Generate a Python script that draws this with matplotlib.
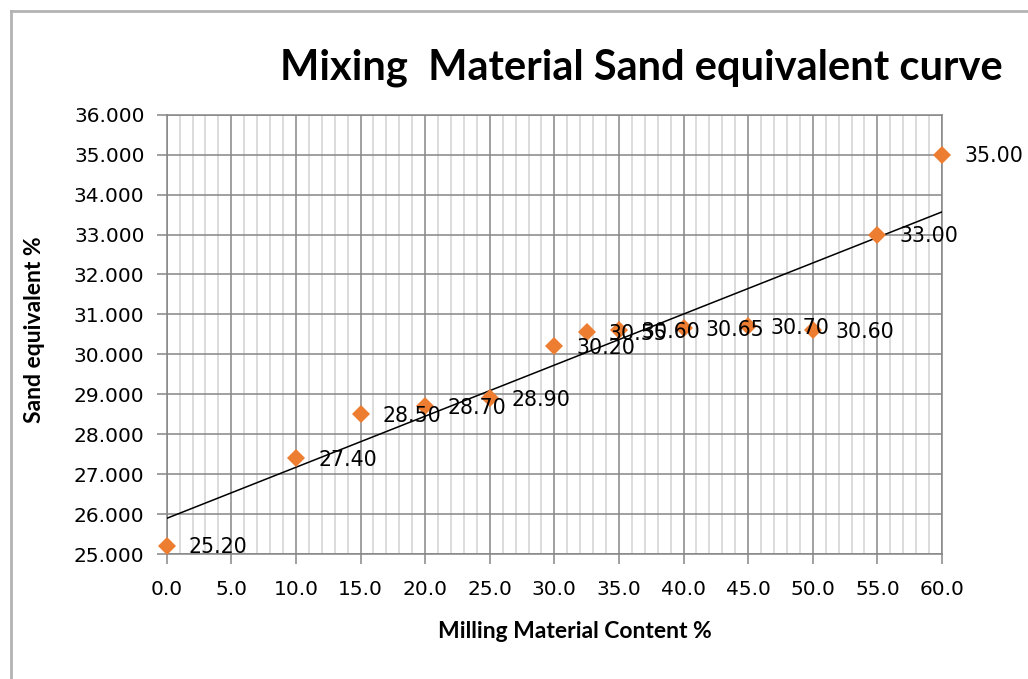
import numpy as np
import matplotlib
matplotlib.use('Agg')
import matplotlib.pyplot as plt
from matplotlib.lines import Line2D
from matplotlib.ticker import MultipleLocator, FormatStrFormatter

# milling material content (%) and sand equivalent (%)
milling = [0, 10, 15, 20, 25, 30, 32.5, 35, 40, 45, 50, 55, 60]
sand_eq = [25.20, 27.40, 28.50, 28.70, 28.90, 30.20, 30.55, 30.60, 30.65, 30.70, 30.60, 33.00, 35.00]

title = 'Mixing  Material Sand equivalent curve'
x_label = 'Milling Material Content %'
y_label = 'Sand equivalent %'

W, H = 1028, 679
fig = plt.figure(figsize=(W / 100, H / 100), dpi=100)
ax = fig.add_axes([166.7 / W, 1 - 554 / H, (942 - 166.7) / W, (554 - 114.7) / H])

major_col = '#868686'
minor_col = '#d9d9d9'

ax.set_xlim(0, 60)
ax.set_ylim(25, 36)
ax.xaxis.set_major_locator(MultipleLocator(5))
ax.xaxis.set_minor_locator(MultipleLocator(1))
ax.yaxis.set_major_locator(MultipleLocator(1))
ax.xaxis.set_major_formatter(FormatStrFormatter('%.1f'))
ax.yaxis.set_major_formatter(FormatStrFormatter('%.3f'))
ax.grid(which='minor', axis='x', color=minor_col, lw=1.3, zorder=0)
ax.grid(which='major', color=major_col, lw=1.1, zorder=0)
ax.set_axisbelow(True)
for s in ax.spines.values():
    s.set_color(major_col)
    s.set_linewidth(1.1)
ax.tick_params(which='major', direction='out', length=7, width=1.1, color=major_col,
               labelsize=14.5, pad=9)
ax.tick_params(which='minor', length=0)
ax.tick_params(axis='x', pad=12)

# trendline (least squares)
k, b = np.polyfit(milling, sand_eq, 1)
xs = np.array([0, 60])
ax.plot(xs, k * xs + b, color='black', lw=1.1, zorder=3)

ax.plot(milling, sand_eq, linestyle='none', marker='D', ms=9.2, color='#ED7D31',
        markeredgewidth=0, zorder=4, clip_on=False)
for x, y in zip(milling, sand_eq):
    ax.annotate(f'{y:.2f}', (x, y), xytext=(16, -1), textcoords='offset points',
                va='center', ha='left', fontsize=14.8, zorder=5)

ax.set_xlabel(x_label, fontsize=16.5, fontweight='bold', family='Lato')
ax.set_ylabel(y_label, fontsize=16.5, fontweight='bold', family='Lato')
ax.xaxis.set_label_coords((575 - 166.7) / (942 - 166.7), -(621 - 554) / (554 - 114.7))
ax.yaxis.set_label_coords(-(166.7 - 45) / (942 - 166.7), (554 - 330) / (554 - 114.7))

fig.text(641 / W, 1 - 68 / H, title, ha='center', va='center', fontsize=30,
         fontweight='bold', family='Lato')

# outer chart border (cropped)
fig.add_artist(Line2D([11 / W, 11 / W], [0, 1 - 11 / H], transform=fig.transFigure,
                      color='#b3b3b3', lw=2))
fig.add_artist(Line2D([11 / W, 1], [1 - 11 / H, 1 - 11 / H], transform=fig.transFigure,
                      color='#b3b3b3', lw=2))

fig.savefig('out.png', dpi=100)
